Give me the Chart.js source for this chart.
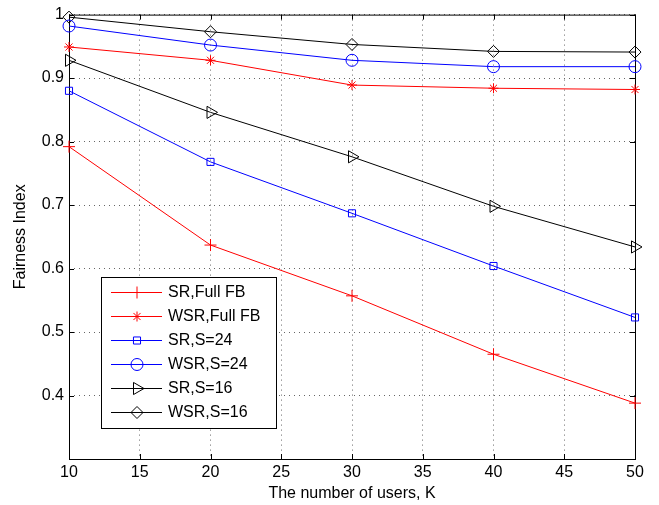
<!DOCTYPE html>
<html>
<head>
<meta charset="utf-8">
<style>
  html, body { margin: 0; padding: 0; background: #fff; }
  #box { width: 659px; height: 505px; }
</style>
</head>
<body>
<div id="box">
  <canvas id="myChart" width="659" height="505"></canvas>
</div>

<script src="https://cdn.jsdelivr.net/npm/chart.js"></script>
<script>
  // number of users K
  const users = [10, 20, 30, 40, 50];
  const xTicks = [10, 15, 20, 25, 30, 35, 40, 45, 50];

  // fairness index per scheme
  const srFull   = [0.792, 0.637, 0.557, 0.465, 0.388];
  const wsrFull  = [0.949, 0.928, 0.889, 0.884, 0.882];
  const srS24    = [0.880, 0.768, 0.687, 0.604, 0.523];
  const wsrS24   = [0.982, 0.952, 0.928, 0.918, 0.918];
  const srS16    = [0.928, 0.846, 0.776, 0.698, 0.634];
  const wsrS16   = [0.996, 0.973, 0.953, 0.942, 0.941];

  const seriesNames = ['SR,Full FB', 'WSR,Full FB', 'SR,S=24', 'WSR,S=24', 'SR,S=16', 'WSR,S=16'];
  const yTicks = [0.3, 0.4, 0.5, 0.6, 0.7, 0.8, 0.9, 1];

  const FONT = '"Liberation Sans", Arial, sans-serif';
  const GRID = 'rgba(0,0,0,0.6)';

  function mk(label, vals, color, style, radius, rot) {
    return {
      label: label,
      data: vals.map((v, i) => ({ x: users[i], y: v })),
      borderColor: color,
      backgroundColor: 'rgba(0,0,0,0)',
      borderWidth: 1,
      pointStyle: style,
      pointRadius: radius,
      pointRotation: rot || 0,
      pointBorderWidth: 1,
      pointBorderColor: color,
      pointBackgroundColor: 'rgba(0,0,0,0)',
      tension: 0,
      clip: false
    };
  }

  const sets = [
    mk(seriesNames[0], srFull, '#ff0000', 'cross', 6),
    mk(seriesNames[1], wsrFull, '#ff0000', 'star', 5),
    mk(seriesNames[2], srS24, '#0000ff', 'rect', 5),
    mk(seriesNames[3], wsrS24, '#0000ff', 'circle', 6),
    mk(seriesNames[4], srS16, '#000000', 'triangle', 7, 90),
    mk(seriesNames[5], wsrS16, '#000000', 'rectRot', 6)
  ];

  // box around plot + inward ticks + legend in lower left
  const frame = {
    id: 'frame',
    beforeDatasetsDraw(chart) {
      const c = chart.ctx, a = chart.chartArea;
      const xs = chart.scales.x, ys = chart.scales.y;
      c.save();
      c.strokeStyle = '#000';
      c.lineWidth = 1;
      c.setLineDash([]);
      c.strokeRect(a.left + 0.5, a.top + 0.5, a.right - a.left, a.bottom - a.top);
      c.beginPath();
      xTicks.forEach(k => {
        const px = Math.round(xs.getPixelForValue(k)) + 0.5;
        c.moveTo(px, a.bottom); c.lineTo(px, a.bottom - 5);
        c.moveTo(px, a.top); c.lineTo(px, a.top + 5);
      });
      yTicks.forEach(v => {
        const py = Math.round(ys.getPixelForValue(v)) + 0.5;
        c.moveTo(a.left, py); c.lineTo(a.left + 5, py);
        c.moveTo(a.right, py); c.lineTo(a.right - 5, py);
      });
      c.stroke();
      c.restore();
    },
    afterDraw(chart) {
      const c = chart.ctx;
      c.save();
      c.setLineDash([]);
      const bx = 101, by = 277, bw = 175, bh = 151;
      c.fillStyle = '#fff';
      c.fillRect(bx, by, bw, bh);
      c.strokeStyle = '#000';
      c.lineWidth = 1;
      c.strokeRect(bx + 0.5, by + 0.5, bw, bh);
      c.font = '16px ' + FONT;
      c.textBaseline = 'middle';
      const rows = [292, 316, 340, 364, 388, 412];
      chart.data.datasets.forEach((ds, i) => {
        const y = rows[i];
        c.strokeStyle = ds.borderColor;
        c.lineWidth = 1;
        c.beginPath();
        c.moveTo(111, y + 0.5); c.lineTo(162, y + 0.5);
        c.stroke();
        c.fillStyle = 'rgba(0,0,0,0)';
        Chart.helpers.drawPoint(c, {
          pointStyle: ds.pointStyle,
          radius: ds.pointRadius,
          rotation: ds.pointRotation,
          borderWidth: 1
        }, 137, y + 0.5);
        c.fillStyle = '#000';
        c.fillText(ds.label, 168, y + 1);
      });
      c.restore();
    }
  };

  const ctx = document.getElementById('myChart');
  const myChart = new Chart(ctx, {
    type: 'line',
    data: { datasets: sets },
    plugins: [frame],
    options: {
      responsive: false,
      animation: false,
      layout: { padding: { left: 11, right: 24, top: 14, bottom: 0 } },
      plugins: { legend: { display: false }, tooltip: { enabled: false } },
      scales: {
        x: {
          type: 'linear',
          min: 10, max: 50,
          afterFit(s) { s.height = 46; },
          afterBuildTicks(s) { s.ticks = xTicks.map(v => ({ value: v })); },
          grid: { color: GRID, lineWidth: 1, drawTicks: false },
          border: { display: false, dash: [1, 4] },
          ticks: { color: '#000', font: { family: FONT, size: 16 }, padding: 4, maxRotation: 0 },
          title: { display: true, text: 'The number of users, K', color: '#000', font: { family: FONT, size: 16 }, padding: { top: 0, bottom: 2 } }
        },
        y: {
          min: 0.3, max: 1,
          afterFit(s) { s.width = 58; },
          afterBuildTicks(s) { s.ticks = yTicks.map(v => ({ value: v })); },
          grid: { color: GRID, lineWidth: 1, drawTicks: false },
          border: { display: false, dash: [1, 4] },
          ticks: {
            color: '#000', font: { family: FONT, size: 16 }, padding: 5,
            callback: v => (Math.abs(v - 0.3) < 1e-6 ? '' : (Math.abs(v - 1) < 1e-6 ? '1' : v.toFixed(1)))
          },
          title: { display: true, text: 'Fairness Index', color: '#000', font: { family: FONT, size: 16 }, padding: { top: 0, bottom: 2 } }
        }
      }
    }
  });
</script>
</body>
</html>
